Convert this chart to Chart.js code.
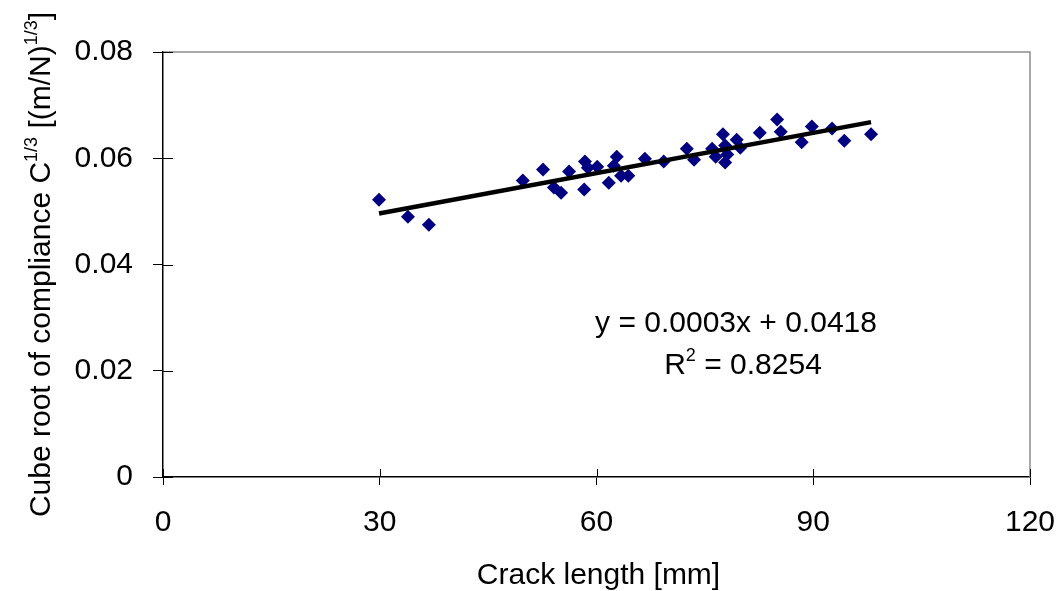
<!DOCTYPE html>
<html>
<head>
<meta charset="utf-8">
<script src="https://cdn.jsdelivr.net/npm/chart.js@4.4.1/dist/chart.umd.min.js"></script>
<style>
  html, body { margin: 0; padding: 0; background: #fff; }
  #wrap { width: 1060px; height: 591px; }
</style>
</head>
<body>
<div id="wrap"><canvas id="chart" width="1060" height="591"></canvas></div>
<script>
// values
const crackLength = [29.9, 33.9, 36.8, 49.8, 52.6, 54.1, 55.1, 56.2, 58.3, 58.4,
  58.8, 60.1, 61.7, 62.8, 62.4, 63.4, 64.4, 66.7, 69.3, 72.5,
  73.5, 76.0, 76.5, 77.5, 77.8, 78.1, 77.8, 79.4, 79.9, 82.6,
  85.0, 85.5, 88.4, 89.8, 92.6, 94.3, 98.0];
const cubeRootC = [0.0522, 0.0490, 0.0475, 0.0558, 0.0579, 0.0545, 0.0535, 0.0575, 0.0541, 0.0594,
  0.0582, 0.0584, 0.0554, 0.0603, 0.0586, 0.0567, 0.0567, 0.0599, 0.0594, 0.0618,
  0.0597, 0.0618, 0.0603, 0.0645, 0.0624, 0.0607, 0.0592, 0.0635, 0.0620, 0.0648,
  0.0673, 0.0650, 0.0630, 0.0660, 0.0656, 0.0633, 0.0645];
const trendX = [29.9, 98.0];
const trendY = [0.0496, 0.0668];

const xTicks = [0, 30, 60, 90, 120];
const yTicks = [0, 0.02, 0.04, 0.06, 0.08];
const yTickLabels = ['0', '0.02', '0.04', '0.06', '0.08'];

const xTitle = 'Crack length [mm]';
const yTitle = [['Cube root of compliance C', false], ['1/3', true], [' [(m/N)', false], ['1/3', true], [']', false]];
const equation = 'y = 0.0003x + 0.0418';
const rSquared = '0.8254';

const FONT = "'Liberation Sans', Arial, sans-serif";
const FS = 30;

// text with small raised parts, centred on x
function drawSup(ctx, parts, x, y) {
    const big = FS + 'px ' + FONT, small = Math.round(FS * 0.6) + 'px ' + FONT;
    let total = 0;
    parts.forEach(p => { ctx.font = p[1] ? small : big; total += ctx.measureText(p[0]).width; });
    let cx = x - total / 2;
    ctx.textAlign = 'left';
    ctx.textBaseline = 'alphabetic';
    parts.forEach(p => {
        ctx.font = p[1] ? small : big;
        ctx.fillText(p[0], cx, p[1] ? y - 13 : y);
        cx += ctx.measureText(p[0]).width;
    });
}

const decor = {
    id: 'decor',
    beforeDatasetsDraw(chart) {
        const { ctx, chartArea: a, scales } = chart;
        ctx.save();
        // grey frame on top and right
        ctx.strokeStyle = '#8c8c8c';
        ctx.lineWidth = 1.5;
        ctx.beginPath();
        ctx.moveTo(a.left, a.top); ctx.lineTo(a.right, a.top); ctx.lineTo(a.right, a.bottom);
        ctx.stroke();
        // tick marks poke inside as well
        ctx.strokeStyle = '#000';
        ctx.lineWidth = 1;
        ctx.beginPath();
        xTicks.forEach(v => {
            const px = Math.round(scales.x.getPixelForValue(v)) + 0.5;
            ctx.moveTo(px, a.bottom); ctx.lineTo(px, a.bottom - 8);
        });
        yTicks.forEach(v => {
            const py = Math.round(scales.y.getPixelForValue(v)) + 0.5;
            ctx.moveTo(a.left, py); ctx.lineTo(a.left + 10, py);
        });
        ctx.stroke();
        ctx.restore();
    },
    afterDraw(chart) {
        const { ctx, chartArea: a } = chart;
        ctx.save();
        ctx.fillStyle = '#000';
        // axis titles
        drawSup(ctx, [[xTitle, false]], (a.left + a.right) / 2 + 2, 584);
        ctx.save();
        ctx.translate(50, (a.top + a.bottom) / 2);
        ctx.rotate(-Math.PI / 2);
        drawSup(ctx, yTitle, 0, 0);
        ctx.restore();
        // trendline label
        drawSup(ctx, [[equation, false]], 736, 332);
        drawSup(ctx, [['R', false], ['2', true], [' = ' + rSquared, false]], 743, 374);
        ctx.restore();
    }
};

Chart.defaults.font.family = FONT;
Chart.defaults.color = '#000';

new Chart(document.getElementById('chart'), {
    type: 'scatter',
    data: {
        datasets: [
            {
                label: 'Trend',
                data: trendX.map((x, i) => ({ x, y: trendY[i] })),
                showLine: true,
                borderColor: '#000',
                borderWidth: 4.5,
                pointRadius: 0,
                order: 0
            },
            {
                label: 'Data',
                data: crackLength.map((x, i) => ({ x, y: cubeRootC[i] })),
                pointStyle: 'rectRot',
                pointRadius: 7,
                pointBackgroundColor: '#000080',
                pointBorderColor: '#000080',
                pointBorderWidth: 0,
                order: 1
            }
        ]
    },
    options: {
        responsive: false,
        animation: false,
        devicePixelRatio: 1,
        layout: { padding: { left: 0, top: 52, right: 30, bottom: 0 } },
        plugins: { legend: { display: false }, tooltip: { enabled: false } },
        scales: {
            x: {
                type: 'linear', min: 0, max: 120,
                afterBuildTicks: s => { s.ticks = xTicks.map(v => ({ value: v })); },
                ticks: { font: { size: FS }, color: '#000', padding: 20, maxRotation: 0, callback: v => String(v) },
                grid: { drawOnChartArea: false, tickLength: 8, color: '#000' },
                border: { color: '#000', width: 1.5 },
                afterFit: s => { s.height = 114; s.paddingLeft = 0; s.paddingRight = 0; }
            },
            y: {
                type: 'linear', min: 0, max: 0.08,
                afterBuildTicks: s => { s.ticks = yTicks.map(v => ({ value: v })); },
                ticks: { font: { size: FS }, color: '#000', padding: 20, callback: (v, i) => yTickLabels[i] },
                grid: { drawOnChartArea: false, tickLength: 10, color: '#000' },
                border: { color: '#000', width: 1.5 },
                afterFit: s => { s.width = 163; s.paddingTop = 0; s.paddingBottom = 0; }
            }
        }
    },
    plugins: [decor]
});
</script>
</body>
</html>
